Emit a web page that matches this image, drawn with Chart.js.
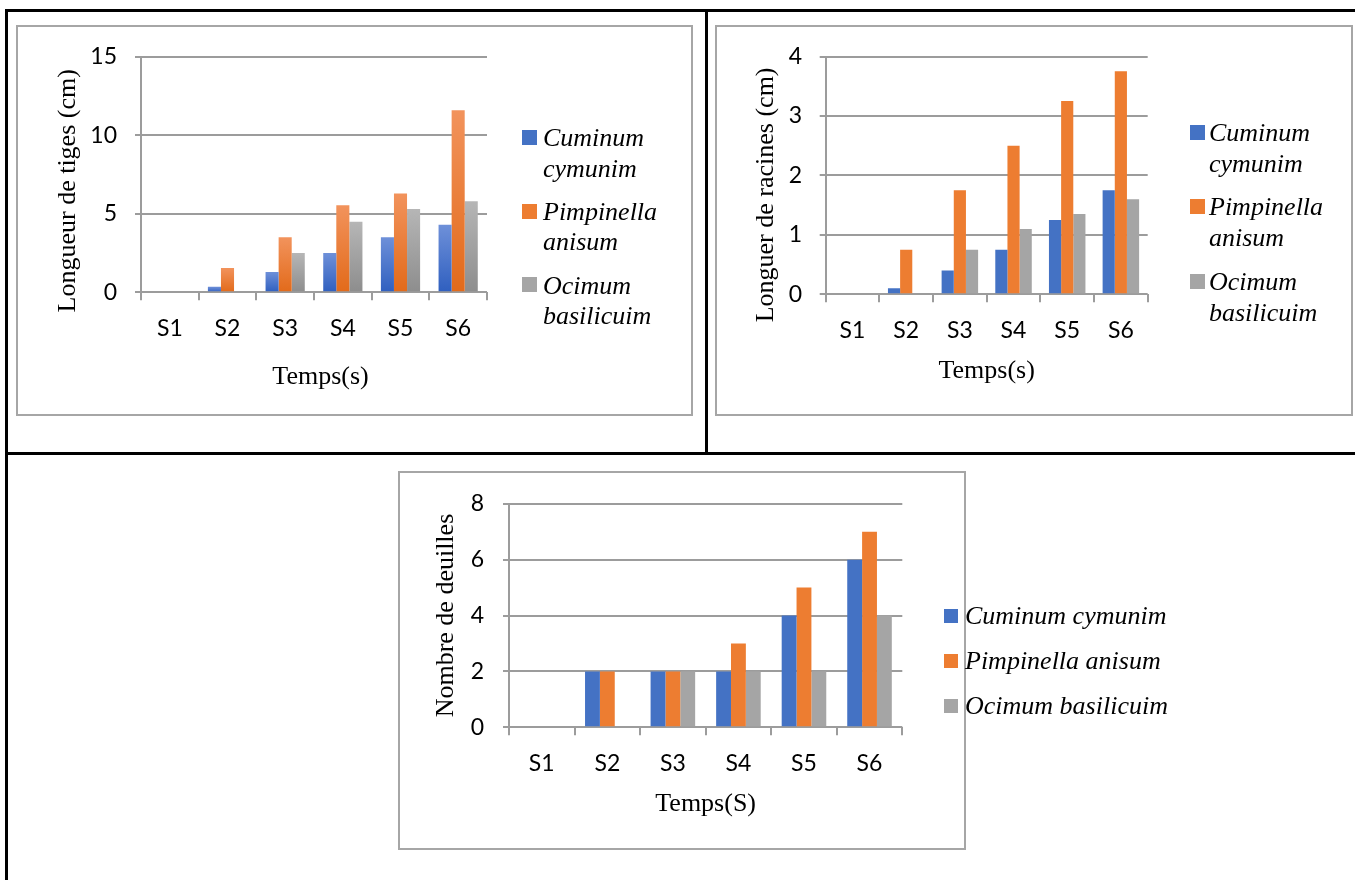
<!DOCTYPE html>
<html>
<head>
<meta charset="utf-8">
<script src="https://cdn.jsdelivr.net/npm/chart.js@4.4.1/dist/chart.umd.min.js"></script>
<style>
  html, body { margin: 0; padding: 0; background: #fff; }
  body { position: relative; width: 1355px; height: 880px; overflow: hidden; }
  .rule { position: absolute; background: #000; }
  .frame { position: absolute; border: 2px solid #a6a6a6; box-sizing: border-box; }
  canvas { position: absolute; }
</style>
</head>
<body>
<!-- table lines -->
<div class="rule" style="left:5px; top:9px; width:1350px; height:3px;"></div>
<div class="rule" style="left:5px; top:9px; width:3px; height:871px;"></div>
<div class="rule" style="left:705px; top:9px; width:3px; height:445px;"></div>
<div class="rule" style="left:5px; top:452px; width:1350px; height:3px;"></div>

<div class="frame" style="left:16px; top:25px; width:677px; height:391px;"></div>
<div class="frame" style="left:715px; top:25px; width:638px; height:391px;"></div>
<div class="frame" style="left:398px; top:471px; width:568px; height:379px;"></div>

<canvas id="tiges" width="690" height="400" style="left:16px; top:25px;"></canvas>
<canvas id="racines" width="640" height="400" style="left:715px; top:25px;"></canvas>
<canvas id="feuilles" width="820" height="400" style="left:398px; top:471px;"></canvas>

<script>
// data
const weeks = ["S1", "S2", "S3", "S4", "S5", "S6"];
const species = ["Cuminum cymunim", "Pimpinella anisum", "Ocimum basilicuim"];

const tigesCuminum = [0, 0.35, 1.3, 2.5, 3.5, 4.3];
const tigesPimpinella = [0, 1.55, 3.5, 5.55, 6.3, 11.6];
const tigesOcimum = [0, 0, 2.5, 4.5, 5.3, 5.8];

const racinesCuminum = [0, 0.1, 0.4, 0.75, 1.25, 1.75];
const racinesPimpinella = [0, 0.75, 1.75, 2.5, 3.25, 3.75];
const racinesOcimum = [0, 0, 0.75, 1.1, 1.35, 1.6];

const feuillesCuminum = [0, 2, 2, 2, 4, 6];
const feuillesPimpinella = [0, 2, 2, 3, 5, 7];
const feuillesOcimum = [0, 0, 2, 2, 2, 4];

const colors = ["#4472c4", "#ed7d31", "#a5a5a5"];
// top / bottom shades for the gradient bars of the first chart
const gradTop = ["#6e90d9", "#f2935c", "#b6b6b6"];
const gradBottom = ["#2f5fbf", "#e26a1a", "#8d8d8d"];

const gridColor = "#9c9c9c";
const tickFont = { family: "Lato", size: 23 };
const titleFont = { family: "Liberation Serif", size: 26, lineHeight: 1.2 };
const nbsp = (n) => "\u00a0".repeat(n);

function barGradient(i) {
    return (c) => {
        const y = c.chart.scales && c.chart.scales.y;
        if (!y || c.type !== "data" || !c.raw) return gradBottom[i];
        const y0 = y.getPixelForValue(0);
        const y1 = y.getPixelForValue(c.raw);
        if (!isFinite(y0) || !isFinite(y1) || y0 === y1) return gradBottom[i];
        const g = c.chart.ctx.createLinearGradient(0, y1, 0, y0);
        g.addColorStop(0, gradTop[i]);
        g.addColorStop(1, gradBottom[i]);
        return g;
    };
}

// legend drawn beside the plot, names may wrap onto two lines like in Excel
const sideLegend = {
    id: "sideLegend",
    afterDraw(chart, args, o) {
        const ctx = chart.ctx;
        ctx.save();
        ctx.font = 'italic 26px "Liberation Serif"';
        ctx.textBaseline = "middle";
        ctx.textAlign = "left";
        let y = o.top;
        chart.data.datasets.forEach((ds, i) => {
            const lines = o.wrap ? ds.label.split(" ") : [ds.label];
            ctx.fillStyle = colors[i];
            ctx.fillRect(o.boxX, Math.round(y - o.box / 2), o.box, o.box);
            ctx.fillStyle = "#000";
            lines.forEach((t, k) => ctx.fillText(t, o.textX, y + 2 + k * o.lineGap));
            y += o.itemGap;
        });
        ctx.restore();
    },
};

function makeChart(id, series, opt) {
    const canvas = document.getElementById(id);
    return new Chart(canvas.getContext("2d"), {
        type: "bar",
        data: {
            labels: weeks,
            datasets: series.map((data, i) => ({
                label: species[i],
                data: data,
                backgroundColor: opt.gradient ? barGradient(i) : colors[i],
                borderWidth: 0,
                categoryPercentage: 0.68,
                barPercentage: 1,
            })),
        },
        plugins: [sideLegend],
        options: {
            responsive: false,
            animation: false,
            layout: {
                padding: { top: opt.padTop, left: 0, right: canvas.width - opt.plotRight, bottom: 0 },
            },
            plugins: {
                tooltip: { enabled: false },
                legend: { display: false },
                sideLegend: opt.legend,
            },
            scales: {
                x: {
                    grid: {
                        drawOnChartArea: false,
                        drawTicks: true,
                        tickLength: 8,
                        color: gridColor,
                        lineWidth: 2,
                    },
                    border: { display: false },
                    ticks: { font: tickFont, color: "#000", padding: 14 },
                    title: {
                        display: true,
                        text: opt.xTitle,
                        font: titleFont,
                        color: "#000",
                        padding: { top: 0, bottom: opt.xTitlePad },
                    },
                    afterFit: (s) => { s.height = opt.xHeight; },
                },
                y: {
                    min: 0,
                    max: opt.yMax,
                    ticks: { stepSize: opt.yStep, font: tickFont, color: "#000", padding: opt.yTickPad },
                    grid: { color: gridColor, lineWidth: 2, tickLength: 6 },
                    border: { display: true, color: gridColor, width: 2 },
                    title: {
                        display: true,
                        text: opt.yTitle,
                        font: titleFont,
                        color: "#000",
                        padding: { top: opt.yTitlePad, bottom: 0 },
                    },
                    afterFit: (s) => { s.width = opt.yWidth; },
                },
            },
        },
    });
}

// trailing / leading no-break spaces only nudge the titles off-centre as in the original
makeChart("tiges", [tigesCuminum, tigesPimpinella, tigesOcimum], {
    gradient: true,
    yMax: 15, yStep: 5,
    xTitle: nbsp(2) + "Temps(s)", yTitle: "Longueur de tiges (cm)" + nbsp(5),
    padTop: 30.7, xHeight: 132.7, xTitlePad: 32.4,
    yWidth: 125, yTickPad: 18, yTitlePad: 36.4, plotRight: 471,
    legend: { wrap: true, boxX: 506, textX: 527, box: 15, top: 112.5, lineGap: 30.3, itemGap: 73.7 },
});

makeChart("racines", [racinesCuminum, racinesPimpinella, racinesOcimum], {
    gradient: false,
    yMax: 4, yStep: 1,
    xTitle: "Temps(s)", yTitle: "Longuer de racines (cm)" + nbsp(6),
    padTop: 30.7, xHeight: 130.7, xTitlePad: 38.4,
    yWidth: 110.7, yTickPad: 17.7, yTitlePad: 35.4, plotRight: 432.7,
    legend: { wrap: true, boxX: 475, textX: 494, box: 15, top: 107, lineGap: 31, itemGap: 74.5 },
});

makeChart("feuilles", [feuillesCuminum, feuillesPimpinella, feuillesOcimum], {
    gradient: false,
    yMax: 8, yStep: 2,
    xTitle: "Temps(S)", yTitle: "Nombre de deuilles",
    padTop: 29.7, xHeight: 143.7, xTitlePad: 51.4,
    yWidth: 111, yTickPad: 19, yTitlePad: 32.4, plotRight: 504.3,
    legend: { wrap: false, boxX: 546, textX: 567, box: 14, top: 144.5, lineGap: 0, itemGap: 45 },
});
</script>
</body>
</html>
